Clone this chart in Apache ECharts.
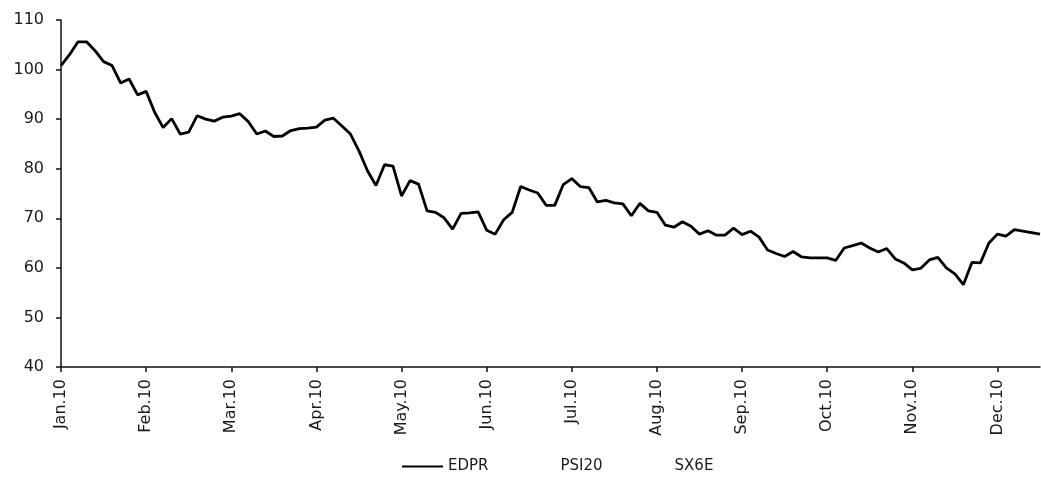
<!DOCTYPE html>
<html>
<head>
<meta charset="utf-8">
<script src="https://cdn.jsdelivr.net/npm/echarts@6/dist/echarts.min.js"></script>
<style>
  html, body { margin: 0; padding: 0; background: #fff; }
  #chart { width: 1041px; height: 484px; }
</style>
</head>
<body>
<div id="chart"></div>
<script>
// month labels, one every 10 points
const months = ["Jan.10", "Feb.10", "Mar.10", "Apr.10", "May.10", "Jun.10",
  "Jul.10", "Aug.10", "Sep.10", "Oct.10", "Nov.10", "Dec.10"];
const perMonth = 10;

// EDPR, rebased to 100
const edpr = [
  100.8, 103, 105.6, 105.6, 103.8, 101.6, 100.8, 97.3, 98.1, 94.9,
  95.6, 91.4, 88.3, 90.1, 87, 87.4, 90.7, 90, 89.6, 90.4,
  90.6, 91.1, 89.5, 87, 87.6, 86.5, 86.6, 87.7, 88.1, 88.2,
  88.4, 89.8, 90.2, 88.6, 87, 83.6, 79.6, 76.6, 80.8, 80.5,
  74.5, 77.6, 76.9, 71.5, 71.2, 70.1, 67.8, 71, 71.1, 71.3,
  67.6, 66.8, 69.7, 71.2, 76.4, 75.7, 75.1, 72.6, 72.6, 76.8,
  78, 76.4, 76.2, 73.3, 73.6, 73.1, 72.9, 70.5, 73, 71.5,
  71.2, 68.6, 68.2, 69.3, 68.4, 66.8, 67.5, 66.6, 66.6, 68,
  66.7, 67.4, 66.2, 63.6, 62.9, 62.3, 63.3, 62.2, 62, 62,
  62, 61.5, 64, 64.5, 65, 64, 63.2, 63.9, 61.8, 61,
  59.6, 59.9, 61.6, 62.1, 60, 58.8, 56.6, 61.1, 61, 65,
  66.8, 66.4, 67.7, 67.4, 67.1, 66.8
];
// the other two indices are not visible in the picture
const psi20 = [];
const sx6e = [];

const yTicks = { min: 40, max: 110, interval: 10 };

const categories = edpr.map((v, i) =>
  i % perMonth === 0 ? (months[i / perMonth] || "") : "");

const font = "DejaVu Sans";
const chart = echarts.init(document.getElementById("chart"));

chart.setOption({
  animation: false,
  backgroundColor: "#fff",
  textStyle: { fontFamily: font },
  grid: { left: 61, right: 1, top: 20, bottom: 117 },
  legend: {
    bottom: 10,
    left: 402,
    padding: 0,
    icon: "rect",
    itemWidth: 41,
    itemHeight: 2,
    itemGap: 26,
    textStyle: { fontFamily: font, fontSize: 15, color: "#1a1a1a" },
    data: ["EDPR", "PSI20", "SX6E"]
  },
  xAxis: {
    type: "category",
    data: categories,
    boundaryGap: false,
    axisLine: { lineStyle: { color: "#111", width: 1.5 } },
    axisTick: {
      length: 5,
      lineStyle: { color: "#111", width: 1.5 },
      interval: (idx) => idx % perMonth === 0
    },
    axisLabel: {
      rotate: 90,
      margin: 12,
      color: "#1a1a1a",
      fontSize: 16,
      fontFamily: font,
      interval: (idx) => idx % perMonth === 0
    },
    splitLine: { show: false }
  },
  yAxis: {
    type: "value",
    min: yTicks.min,
    max: yTicks.max,
    interval: yTicks.interval,
    axisLine: { show: true, lineStyle: { color: "#111", width: 1.5 } },
    axisTick: { show: true, length: 5, lineStyle: { color: "#111", width: 1.5 } },
    axisLabel: { color: "#1a1a1a", fontSize: 16, fontFamily: font, margin: 17 },
    splitLine: { show: false }
  },
  series: [
    {
      name: "EDPR",
      type: "line",
      data: edpr,
      symbol: "none",
      color: "#000",
      lineStyle: { color: "#000", width: 2.8 }
    },
    {
      name: "PSI20",
      type: "line",
      data: psi20,
      symbol: "none",
      color: "#fff",
      lineStyle: { color: "#fff", width: 2 }
    },
    {
      name: "SX6E",
      type: "line",
      data: sx6e,
      symbol: "none",
      color: "#fff",
      lineStyle: { color: "#fff", width: 2 }
    }
  ]
});
</script>
</body>
</html>
